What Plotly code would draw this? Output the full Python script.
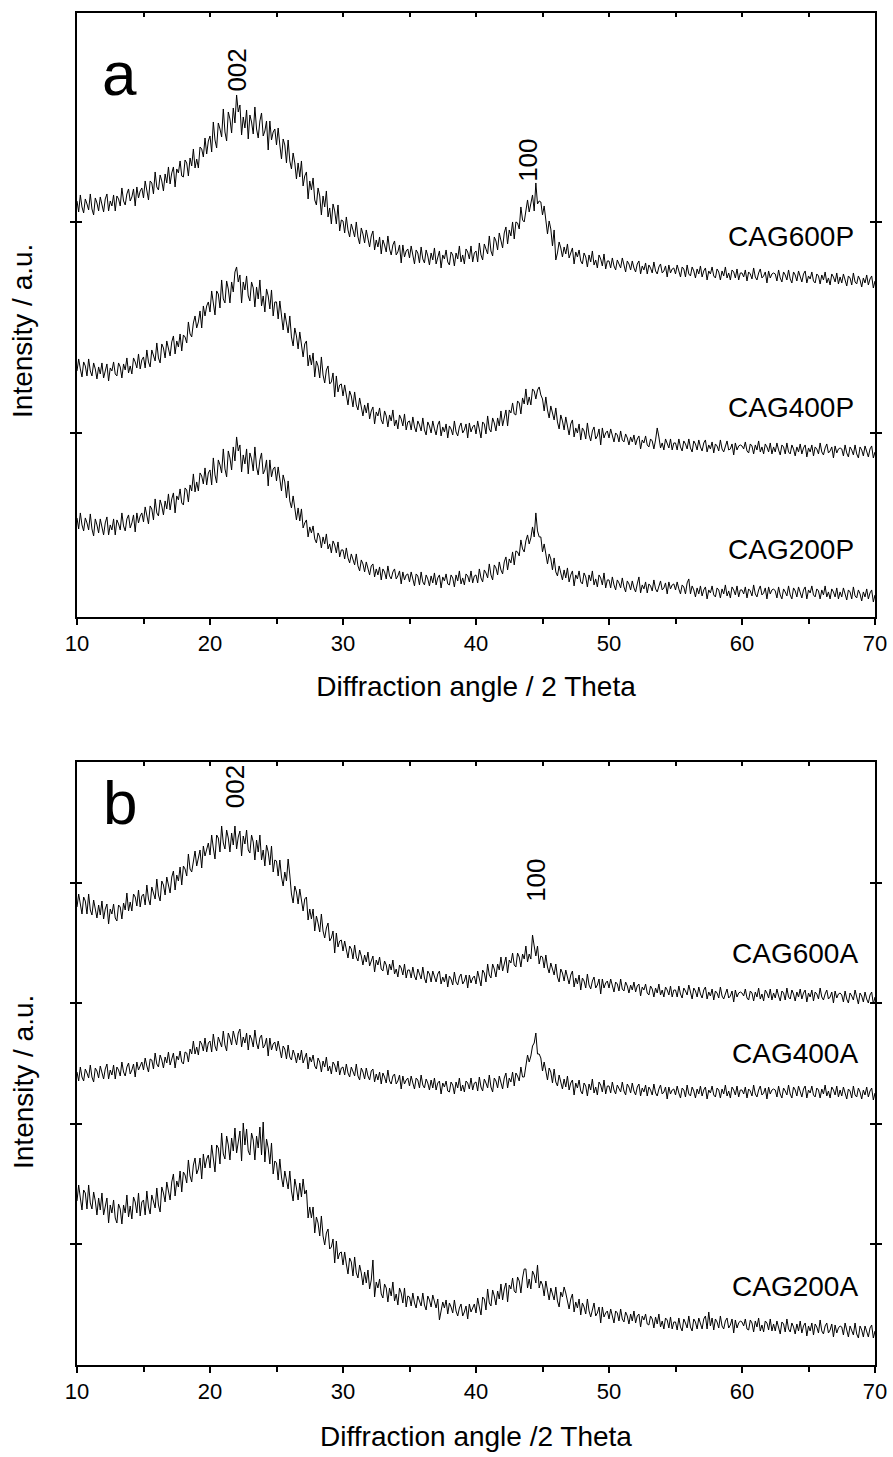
import numpy as np
import plotly.graph_objects as go

# 2-theta sampling grid (degrees), 0.125 deg step
two_theta = np.round(np.arange(10.0, 70.0001, 0.125), 3)

# ---------------- Panel a (intensity, a.u., stacked patterns) ----------------
cag600p = [
 416,405,422,410,404,418,413,407,423,408,402,419,414,406,420,411,405,418,423,406,416,411,422,406,421,418,411,429,416,412,423,428,416,420,428,411,430,419,426,429,
 419,436,426,417,436,434,423,445,430,427,442,436,426,443,434,450,433,444,450,430,448,444,456,441,440,457,454,441,459,451,468,449,458,449,470,468,460,479,463,476,
 481,465,495,477,469,494,488,480,508,485,476,505,498,484,509,494,522,505,512,482,500,489,507,478,502,495,483,510,488,479,496,504,481,486,496,467,496,477,485,488,
 472,489,472,458,478,472,454,477,456,448,464,454,438,454,440,456,431,441,445,418,436,427,439,417,412,429,421,402,421,410,426,400,409,393,413,406,393,412,386,397,
 396,384,400,387,380,393,387,380,395,380,373,389,383,374,387,377,370,381,386,367,377,370,380,363,377,372,365,381,368,362,372,376,362,365,372,354,372,360,366,368,
 359,371,361,353,367,364,354,370,358,354,367,361,352,364,357,369,353,361,366,349,362,358,367,355,352,365,362,351,364,358,371,355,362,353,368,365,358,371,355,364,
 366,355,374,362,357,373,368,363,381,366,361,380,376,367,384,375,369,384,390,373,387,381,395,378,395,394,388,410,397,395,409,417,405,412,422,406,434,413,416,415,
 402,411,397,383,396,388,371,387,357,364,375,369,360,370,363,373,359,365,369,353,365,360,367,356,353,364,360,350,362,355,366,352,357,349,362,358,351,363,348,356,
 356,349,359,351,347,357,353,349,359,350,345,356,353,347,356,349,345,353,356,343,351,347,354,343,352,349,344,355,346,343,350,353,344,346,351,340,352,344,348,349,
 343,352,345,340,350,348,340,352,343,341,350,346,339,348,343,351,340,346,349,337,346,343,350,341,339,348,345,337,346,341,350,339,344,337,347,345,339,348,337,344,
 344,340,347,336,345,343,338,349,340,337,344,348,339,341,345,334,346,339,343,344,343,336,347,339,335,345,342,337,347,338,334,345,342,336,346,339,335,343,346,334,
 341,338,345,336,334,343,341,333,342,337,345,334,339,332,343,340,335,344,333,340,334,343,336,331,341,339,332,344,335,333,341,337,330,339,334,342,332,338,341,329,
 336]

cag400p = [
 246,258,248,240,255,251,241,258,246,241,254,248,238,250,243,254,239,247,253,236,249,246,255,243,241,254,250,239,253,247,259,244,251,243,259,255,249,263,248,257,
 260,249,267,255,250,267,262,256,274,259,254,273,269,259,276,267,261,275,281,263,276,270,283,266,282,280,274,295,283,280,294,301,289,295,306,289,311,301,311,315,
 305,326,313,302,326,323,309,337,318,314,336,328,314,335,325,345,350,335,342,314,335,327,341,321,316,335,329,310,330,318,337,311,321,305,328,321,308,327,301,315,
 315,298,316,298,287,304,295,284,301,280,271,289,281,268,285,269,260,273,276,251,262,252,264,240,256,251,239,260,242,234,247,251,233,235,244,220,241,225,232,233,
 221,232,221,212,226,221,210,225,212,207,219,211,201,212,204,214,198,206,210,193,205,201,209,197,193,206,201,190,202,196,207,191,197,188,202,198,191,203,187,195,
 196,187,200,190,185,196,192,186,199,187,182,195,191,184,196,188,182,192,196,181,190,185,193,179,191,188,182,196,185,181,190,194,184,187,193,179,194,185,190,192,
 183,196,188,179,195,193,183,201,188,185,199,194,186,199,191,206,191,201,207,191,207,204,214,203,202,216,214,203,219,213,228,212,220,212,228,226,218,227,230,222,
 218,206,220,207,199,211,204,197,209,195,188,202,196,187,200,189,182,193,197,180,189,184,193,177,189,186,178,194,182,176,186,190,178,181,188,172,189,179,184,186,
 179,188,180,175,184,182,175,186,177,175,183,179,172,180,175,182,172,178,181,168,177,174,181,172,170,178,176,168,177,189,180,169,174,167,178,174,169,178,167,174,
 174,167,178,170,166,176,173,168,178,169,165,176,173,167,177,170,166,174,177,165,172,168,175,164,173,171,166,177,168,165,172,176,167,168,173,162,174,167,171,172,
 171,168,175,166,164,173,171,163,172,167,176,165,170,163,173,170,165,174,163,170,165,174,167,162,172,170,163,174,165,163,172,168,161,170,165,173,163,169,172,160,
 169,165,172,161,170,168,163,174,165,162,169,173,164,166,170,159,171,164,168,169,168,161,172,164,160,170,167,162,172,163,159,170,167,161,171,164,160,168,171,159,
 165]

cag200p = [
 99,88,104,92,86,99,94,87,103,88,81,98,92,84,98,88,82,94,100,82,92,87,98,82,97,93,87,104,91,86,98,102,89,94,102,85,104,94,101,104,
 95,110,101,93,111,108,97,118,104,101,117,111,102,116,108,123,107,118,124,104,121,117,128,114,112,129,127,115,132,126,143,125,135,126,144,141,133,149,132,144,
 147,132,159,142,134,157,152,144,168,148,140,166,159,147,170,156,180,166,172,145,162,153,168,143,164,158,146,170,150,142,157,164,143,147,157,131,157,140,148,150,
 136,150,138,126,142,135,119,136,116,109,121,111,97,109,96,108,89,94,97,80,90,84,91,78,74,84,80,69,80,73,83,68,73,64,76,72,64,75,60,67,
 67,58,69,59,54,63,58,52,63,51,46,57,53,45,55,47,42,51,53,40,48,42,50,37,48,45,38,51,41,38,45,48,38,41,46,33,45,37,42,43,
 35,45,37,31,43,41,32,45,35,32,42,38,31,41,34,44,32,39,42,29,40,36,43,33,32,42,39,30,42,36,46,33,39,32,43,41,35,46,34,41,
 42,34,48,39,35,47,44,39,53,42,37,52,49,42,55,47,43,55,60,47,58,54,65,52,66,65,61,77,68,65,76,82,73,79,90,80,104,86,80,80,
 65,73,63,53,63,58,47,59,45,41,51,45,37,47,39,49,35,42,46,31,42,38,46,35,33,44,40,30,42,36,46,32,38,30,42,39,32,44,29,37,
 37,29,40,32,27,37,34,29,39,30,25,36,33,27,36,29,25,33,40,24,32,28,35,24,33,31,26,37,28,25,32,36,27,29,34,23,35,28,32,33,
 27,35,28,23,32,30,23,34,38,23,31,27,20,29,23,31,21,27,30,18,27,24,31,22,20,29,27,19,28,23,32,21,26,19,30,27,22,31,20,27,
 27,23,30,19,28,26,21,32,23,20,27,31,22,24,29,18,30,23,27,28,26,19,30,22,18,28,25,21,31,22,18,29,26,20,30,23,19,27,30,18,
 27,24,31,22,20,28,26,18,27,22,31,20,25,18,28,25,20,29,18,25,20,29,22,17,27,25,18,30,21,19,27,23,16,25,20,28,18,24,27,15,
 22]

# ---------------- Panel b (intensity, a.u., stacked patterns) ----------------
cag600a = [
 458,471,461,451,468,464,451,471,455,450,465,457,447,460,450,464,446,456,461,441,456,451,461,447,444,460,458,446,462,455,472,454,463,454,471,468,459,475,458,469,
 471,460,480,466,460,478,473,466,486,470,464,484,480,470,488,478,472,488,494,475,490,484,498,480,499,496,489,511,496,493,506,514,499,506,515,497,519,509,517,522,
 510,530,517,506,530,527,513,539,522,516,535,527,513,532,520,539,516,528,534,509,529,521,535,515,512,530,523,505,525,513,530,505,515,499,520,513,500,519,493,505,
 504,489,505,488,479,493,484,506,490,471,462,479,473,461,476,463,454,466,468,445,456,446,456,434,449,442,433,451,434,427,437,442,424,427,434,412,432,418,424,425,
 414,424,415,407,419,416,406,420,408,404,415,409,400,410,403,413,399,405,409,393,405,400,408,396,394,404,400,390,401,395,405,391,396,388,400,397,390,401,387,395,
 395,387,398,389,385,396,391,386,398,387,382,394,391,383,394,387,383,391,394,381,388,383,391,378,389,386,380,393,383,380,388,391,381,384,390,377,390,382,387,389,
 381,394,386,379,395,392,383,401,390,387,401,396,388,401,395,408,394,403,408,392,405,402,412,400,398,412,408,398,411,406,419,403,411,406,430,419,409,419,401,409,
 408,397,410,398,392,402,396,390,401,388,383,396,392,384,395,387,381,390,394,378,387,381,390,375,387,384,377,391,380,376,384,388,377,380,386,371,386,377,382,384,
 377,386,379,373,383,381,374,386,376,374,383,379,372,380,375,383,373,379,381,369,378,375,381,372,370,379,376,368,377,372,381,370,375,368,378,375,370,379,368,375,
 375,368,379,371,367,377,374,370,380,371,366,377,374,368,378,371,367,375,378,366,373,369,376,365,374,372,367,378,369,366,372,376,367,369,374,363,375,368,372,373,
 372,369,376,367,365,374,372,364,373,368,377,366,371,364,375,372,367,376,365,372,367,376,369,364,374,372,365,377,368,366,375,371,364,373,368,376,366,372,375,363,
 372,368,375,364,373,371,366,377,368,365,371,375,366,368,373,362,374,367,371,372,370,363,374,366,362,372,369,365,375,366,361,372,369,363,373,366,362,370,373,361,
 368]

cag400a = [
 293,284,298,288,284,296,292,287,300,288,283,297,294,287,299,291,286,296,301,286,295,290,300,286,298,295,289,303,293,289,298,302,291,295,301,288,303,295,300,303,
 295,307,299,293,306,305,296,312,301,298,310,305,297,308,302,313,300,307,312,297,309,305,314,303,301,313,312,303,316,311,324,311,318,310,324,321,314,327,313,322,
 324,313,331,319,314,328,323,318,334,320,314,332,327,320,334,326,320,332,336,318,328,322,332,315,330,326,318,335,322,316,327,330,317,320,327,309,327,315,321,323,
 314,324,315,307,319,316,306,320,308,305,315,310,302,312,305,315,302,308,312,296,308,303,310,299,296,307,303,293,304,298,308,294,299,291,303,300,293,304,290,297,
 298,290,301,292,288,298,294,289,301,289,285,297,293,286,297,289,285,294,296,283,291,285,293,281,292,288,282,295,284,281,289,291,281,284,290,276,289,281,285,287,
 279,289,282,276,287,285,277,290,280,277,286,282,275,285,277,287,275,282,284,271,282,278,284,274,273,283,280,271,283,277,287,274,280,273,284,282,276,287,275,282,
 283,274,288,278,274,286,282,277,290,278,273,287,284,277,289,281,276,287,292,277,287,283,293,279,292,289,284,298,288,288,301,310,303,309,319,322,332,311,311,307,
 294,303,294,285,297,293,282,296,283,279,290,284,276,286,278,289,275,282,285,270,282,277,285,274,271,282,279,269,281,275,286,272,278,270,283,280,273,285,271,279,
 279,272,283,275,271,280,277,273,283,274,270,281,278,272,282,274,270,278,281,269,277,273,280,269,278,275,270,281,272,269,276,280,271,273,278,266,278,271,275,276,
 270,279,272,267,277,275,268,280,271,269,278,274,267,276,271,279,269,275,278,266,275,272,279,270,268,277,275,267,276,271,280,269,274,267,278,275,270,279,268,275,
 275,271,278,267,276,274,269,280,271,268,275,279,270,272,277,266,278,271,275,276,275,268,279,271,267,277,274,270,280,271,267,278,275,269,279,272,268,276,279,267,
 275,272,279,270,268,277,275,267,276,271,280,269,274,267,278,275,270,279,268,275,269,278,271,266,276,274,267,279,270,268,277,273,266,275,270,278,268,274,277,265,
 272]

cag200a = [
 164,180,167,155,175,172,156,180,162,156,173,164,150,167,155,172,150,160,167,142,160,152,165,147,142,161,156,141,160,152,170,148,159,146,168,163,152,172,149,163,
 165,150,174,158,151,170,164,157,177,160,153,178,172,163,183,172,165,183,191,169,184,178,194,173,193,190,182,205,189,183,200,207,191,196,207,186,211,197,206,210,
 197,220,206,193,220,217,201,232,211,206,229,220,205,227,214,237,212,226,234,204,242,220,236,214,210,232,225,205,229,217,238,210,243,203,226,217,201,222,191,204,
 202,185,206,188,178,194,186,176,194,174,164,186,177,165,182,168,186,171,175,147,158,147,158,132,148,142,129,149,129,120,132,136,116,118,126,102,124,106,112,113,
 100,113,101,91,107,103,89,108,92,87,100,92,80,93,82,95,76,85,105,68,83,77,86,71,67,81,77,63,77,69,83,64,71,60,77,72,62,77,58,69,
 68,59,72,62,57,69,64,59,72,60,55,69,65,58,70,62,57,66,45,54,63,57,65,51,62,58,52,65,54,49,57,61,49,53,59,46,61,53,58,61,
 52,67,58,50,68,66,55,76,62,59,75,69,60,74,66,81,65,76,82,63,80,76,87,74,72,88,84,72,87,96,96,77,86,76,94,90,82,100,77,84,
 80,69,84,72,65,77,71,65,78,64,58,73,68,78,72,63,56,66,71,53,63,57,66,50,62,58,51,66,54,48,57,62,49,52,58,42,58,48,52,54,
 46,56,49,42,54,52,44,56,46,43,53,49,41,51,44,54,42,49,51,38,49,45,51,41,40,49,46,37,48,41,51,38,44,36,47,45,37,48,36,43,
 43,35,47,38,34,46,42,37,49,38,34,46,43,36,47,40,36,46,49,36,53,39,47,35,46,43,37,49,39,36,44,47,37,40,46,32,45,37,42,44,
 43,39,46,36,35,45,42,33,44,38,47,34,40,33,44,42,35,46,34,41,34,44,37,31,43,41,33,46,36,33,42,38,31,41,34,44,32,39,42,29,
 39,34,42,30,41,38,32,45,34,31,39,42,32,35,41,28,40,32,37,39,38,30,42,33,28,39,35,30,42,31,27,39,35,28,39,32,28,37,40,27,
 34]

panel_a = [("CAG600P", cag600p), ("CAG400P", cag400p), ("CAG200P", cag200p)]
panel_b = [("CAG600A", cag600a), ("CAG400A", cag400a), ("CAG200A", cag200a)]

# label anchor positions (2-theta, intensity a.u.)
labels_a = [("CAG600P", 380), ("CAG400P", 209), ("CAG200P", 67)]
labels_b = [("CAG600A", 412), ("CAG400A", 312), ("CAG200A", 78)]

x_ticks = [10, 20, 30, 40, 50, 60, 70]
x_minor = [15, 25, 35, 45, 55, 65]
ya_ticks = [184, 395]
yb_ticks = [120.6, 241.2, 361.8, 482.4]

FONT = "Arial, 'Liberation Sans', sans-serif"

fig = go.Figure()
for name, vals in panel_a:
    fig.add_trace(go.Scatter(x=two_theta, y=vals, mode="lines", name=name,
                             line=dict(color="black", width=1), xaxis="x", yaxis="y",
                             showlegend=False))
for name, vals in panel_b:
    fig.add_trace(go.Scatter(x=two_theta, y=vals, mode="lines", name=name,
                             line=dict(color="black", width=1), xaxis="x2", yaxis="y2",
                             showlegend=False))
# empty traces that activate the top (inward) tick axes
fig.add_trace(go.Scatter(x=[None], y=[None], xaxis="x3", yaxis="y", showlegend=False, hoverinfo="skip"))
fig.add_trace(go.Scatter(x=[None], y=[None], xaxis="x4", yaxis="y2", showlegend=False, hoverinfo="skip"))

xcommon = dict(range=[10, 70], tickvals=x_ticks, ticks="outside", ticklen=6, tickwidth=2,
               tickcolor="black", showline=True, linecolor="black", linewidth=2, mirror=True,
               showgrid=False, zeroline=False, automargin=False,
               tickfont=dict(family=FONT, size=22, color="black"),
               minor=dict(tickvals=x_minor, ticks="outside", ticklen=5,
                          tickwidth=2, tickcolor="black"))
topcommon = dict(range=[10, 70], tickvals=x_minor + x_ticks[1:-1],
                 ticks="inside", ticklen=4, tickwidth=1.5, tickcolor="black",
                 showticklabels=False, showline=False, showgrid=False, zeroline=False,
                 side="top", automargin=False)
ycommon = dict(ticks="inside", ticklen=5, tickwidth=1.5, tickcolor="black",
               showticklabels=False, showline=True, linecolor="black", linewidth=2,
               mirror="allticks", showgrid=False, zeroline=False, automargin=False)

fig.update_layout(
    width=893, height=1457, autosize=False,
    margin=dict(l=77, r=18, t=13, b=92, autoexpand=False),
    paper_bgcolor="white", plot_bgcolor="white",
    xaxis=dict(anchor="y", domain=[0, 1], **xcommon,
               title=dict(text="Diffraction angle / 2 Theta",
                          font=dict(family=FONT, size=28, color="black"), standoff=21)),
    yaxis=dict(anchor="x", domain=[0.5533, 1.0], range=[0, 604], tickvals=ya_ticks, **ycommon),
    xaxis2=dict(anchor="y2", domain=[0, 1], **xcommon,
                title=dict(text="Diffraction angle /2 Theta",
                           font=dict(family=FONT, size=28, color="black"), standoff=23)),
    yaxis2=dict(anchor="x2", domain=[0, 0.446], range=[0, 603], tickvals=yb_ticks, **ycommon),
    xaxis3=dict(anchor="y", overlaying="x", **topcommon),
    xaxis4=dict(anchor="y2", overlaying="x2", **topcommon),
)

ann = []
# y-axis titles
for yc in (0.7648, 0.2093):
    ann.append(dict(text="Intensity / a.u.", xref="paper", yref="paper", x=-0.0677, y=yc,
                    textangle=-90, showarrow=False, font=dict(family=FONT, size=28, color="black"),
                    xanchor="center", yanchor="middle"))
# panel letters
ann.append(dict(text="a", xref="x", yref="y", x=13.2, y=543, showarrow=False,
                font=dict(family=FONT, size=62, color="black")))
ann.append(dict(text="b", xref="x2", yref="y2", x=13.2, y=563, showarrow=False,
                font=dict(family=FONT, size=62, color="black")))
# hkl labels
hkl = [("002", "x", "y", 22.0, 547), ("100", "x", "y", 43.9, 457),
       ("002", "x2", "y2", 21.9, 578), ("100", "x2", "y2", 44.5, 485)]
for txt, xr, yr, xv, yv in hkl:
    ann.append(dict(text=txt, xref=xr, yref=yr, x=xv, y=yv, textangle=-90, showarrow=False,
                    font=dict(family=FONT, size=26, color="black")))
# series labels
for name, yv in labels_a:
    ann.append(dict(text=name, xref="x", yref="y", x=63.7, y=yv, showarrow=False,
                    font=dict(family=FONT, size=28, color="black")))
for name, yv in labels_b:
    ann.append(dict(text=name, xref="x2", yref="y2", x=64.0, y=yv, showarrow=False,
                    font=dict(family=FONT, size=28, color="black")))
fig.update_layout(annotations=ann)

# remove the default page margin so the 893x1457 figure fills the window exactly
fig.write_html("out.html",
               config={"responsive": False, "displayModeBar": False},
               post_script="document.body.style.margin='0px';document.body.style.overflow='hidden';")
